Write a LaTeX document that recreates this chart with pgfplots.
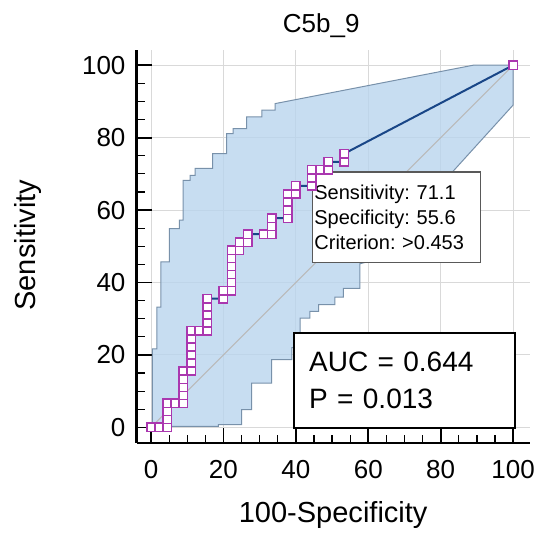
\documentclass[border=0pt]{standalone}
\usepackage{fontspec}
\setmainfont{Liberation Sans}
\usepackage{pgfplots}
\pgfplotsset{compat=1.18}

\definecolor{bandfill}{RGB}{185,212,238}
\definecolor{bandedge}{RGB}{120,145,170}
\definecolor{rocline}{RGB}{25,70,135}
\definecolor{mk}{RGB}{170,55,175}

\begin{document}
\frenchspacing
\begin{tikzpicture}
\begin{axis}[
  scale only axis, width=196.7pt, height=196.2pt,
  xmin=-4, xmax=104.7, ymin=-4.3, ymax=104.1,
  axis lines=left, axis line style={-, line width=1.3pt},
  xtick={0,20,...,100}, ytick={0,20,...,100},
  minor tick num=3, tick align=inside,
  major tick length=7.5pt, minor tick length=4pt,
  major tick style={line width=0.9pt, black},
  minor tick style={line width=0.6pt, black},
  grid=major, major grid style={line width=0.5pt, gray!30},
  ticklabel style={font=\fontsize{13}{15}\selectfont},
  xticklabel style={yshift=-5pt}, yticklabel style={xshift=-2pt},
  /pgf/number format/assume math mode=true,
  clip=false,
]
% confidence band
\addplot[fill=bandfill, fill opacity=0.8, draw=bandedge, line width=0.5pt] coordinates {
 (0.4,0.3) (0.4,21.7) (1.6,21.7) (1.6,33.2) (2.7,33.2) (2.7,45.7) (5.1,45.7) (5.1,54.9)
 (7.8,54.9) (7.8,57.2) (8.9,57.2) (8.9,68.2) (10.8,68.2) (10.8,69.6) (12.2,69.6) (12.2,71.5)
 (17,71.5) (17,75.6) (20.9,75.6) (20.9,81.1) (22.7,81.1) (22.7,82.5) (26.4,82.5) (26.4,85.7)
 (30.6,85.7) (30.6,87.6) (34.3,87.6) (34.3,89.4) (89,100) (100,100) (100,89) (61,46)
 (57.7,45.2) (57.7,38.4) (53.1,38.4) (53.1,36) (50.8,36) (50.8,33.9) (46.3,33.9) (46.3,32)
 (43.9,32) (43.9,30.2) (41.2,30.2) (41.2,22) (38.9,22) (38.9,18.7) (33.3,18.7) (33.3,12.2)
 (27.8,12.2) (27.8,4.9) (25,4.9) (25,0.8) (18.6,0.8) (18.6,0.3)
} -- cycle;
% reference diagonal
\addplot[gray!55, line width=0.5pt] coordinates {(0,0) (100,100)};
% ROC curve
\addplot[rocline, line width=1pt, mark=square*, mark size=2.1pt,
  mark options={fill=white, draw=mk, line width=0.75pt, solid}] coordinates {
 (0,0) (2.22,0) (4.44,0) (4.44,2.22) (4.44,4.44) (4.44,6.67) (6.67,6.67) (8.89,6.67)
 (8.89,8.89) (8.89,11.11) (8.89,13.33) (8.89,15.56) (11.11,15.56) (11.11,17.78) (11.11,20)
 (11.11,22.22) (11.11,24.44) (11.11,26.67) (13.33,26.67) (15.56,26.67) (15.56,28.89)
 (15.56,31.11) (15.56,33.33) (15.56,35.56) (20,35.56) (20,37.78) (22.22,37.78) (22.22,40)
 (22.22,42.22) (22.22,44.44) (22.22,46.67) (22.22,48.89) (24.44,48.89) (24.44,51.11)
 (26.67,51.11) (26.67,53.33) (31.11,53.33) (33.33,53.33) (33.33,55.56) (33.33,57.78)
 (37.78,57.78) (37.78,60) (37.78,62.22) (37.78,64.44) (40,64.44) (40,66.67) (44.44,66.67)
 (44.44,68.89) (44.44,71.11) (46.67,71.11) (48.89,71.11) (48.89,73.33) (53.33,73.33)
 (53.33,75.56) (100,100)
};
\node[draw=black!65, line width=0.6pt, fill=white, anchor=north west, inner xsep=1pt,
  inner ysep=6.4pt, text width=82pt, align=left, font=\fontsize{10}{12.5}\selectfont]
  at (axis cs:44.4,70.7) {Sensitivity: 71.1\\Specificity: 55.6\\Criterion: >0.453};
\node[draw=black, line width=1pt, fill=white, anchor=north west, inner xsep=7.8pt,
  inner ysep=9.5pt, text width=95pt, align=left, font=\fontsize{14}{18.3}\selectfont]
  at (axis cs:39.1,26.3) {AUC = 0.644\\P = 0.013};
\node[anchor=base, font=\fontsize{13}{15}\selectfont] at (axis cs:47,109.1) {C5b\_9};
\node[anchor=base, font=\fontsize{14.5}{17}\selectfont] at (axis cs:50.3,-26.2) {100-Specificity};
\node[anchor=base, rotate=90, font=\fontsize{14.5}{17}\selectfont] at (axis cs:-32,50.3) {Sensitivity};
\coordinate (bl) at (axis cs:-41.7,-29.8);
\coordinate (tr) at (axis cs:108.8,118);
\end{axis}
\path (bl) rectangle (tr);
\end{tikzpicture}
\end{document}
